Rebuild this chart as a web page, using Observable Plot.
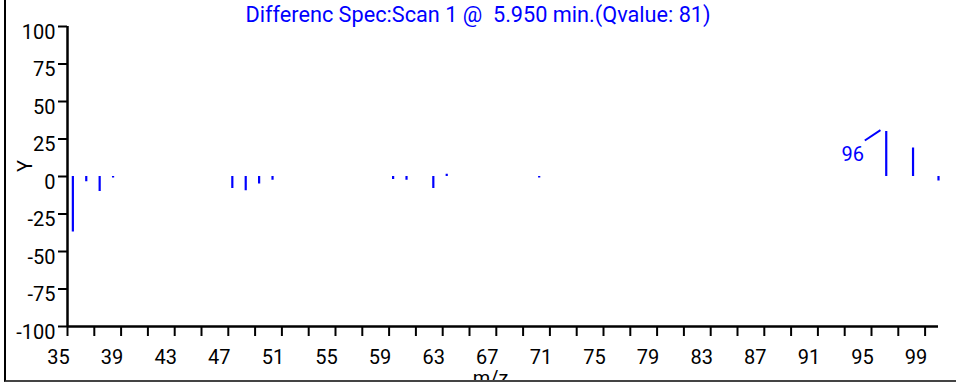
<!DOCTYPE html>
<html>
<head>
<meta charset="utf-8">
<script src="https://cdn.jsdelivr.net/npm/d3@7"></script>
<script src="https://cdn.jsdelivr.net/npm/@observablehq/plot@0.6"></script>
<style>
  html, body { margin: 0; padding: 0; background: #fff; overflow: hidden; }
  #wrap { position: relative; width: 956px; height: 382px; }
  #title { position: absolute; left: 0; top: 4px; width: 956px; text-align: center;
           font-family: Roboto, sans-serif; font-size: 21.7px; line-height: 1; color: #0000ff; white-space: pre; }
  #frame { position: absolute; left: 4px; top: -10px; width: 980px; height: 392px; box-sizing: border-box;
           border-left: 2px solid #000; border-bottom: 2px solid #444; pointer-events: none; }
</style>
</head>
<body>
<div id="wrap">
  <div id="chart"></div>
  <div id="title"></div>
  <div id="frame"></div>
</div>
<script>
// ---- data ----
const titleText = "Differenc Spec:Scan 1 @  5.950 min.(Qvalue: 81)";
const mz        = [35.4, 36.4, 37.4, 38.4, 47.3, 48.3, 49.3, 50.3, 59.3, 60.3, 62.3, 63.3, 70.2, 96.1, 98.1, 100.0];
const intensity = [-37, -3.5, -10, -1, -8, -9.5, -5, -2.5, -2, -2.5, -8, 1.5, -1, 30, 19, -3];
const labelledMz = [96.1];
const labelText  = ["96"];
const yTicks = [-100, -75, -50, -25, 0, 25, 50, 75, 100];
const xTicks = d3.range(35, 100, 2);
const xTickLabels = d3.range(35, 100, 4);
const xLabel = "m/z";
const yLabel = "Y";

const peaks = mz.map((m, i) => ({mz: m, v: intensity[i]}));
const annot = labelledMz.map((m, i) => ({mz: m, v: intensity[mz.indexOf(m)], t: labelText[i]}));

document.getElementById("title").textContent = titleText;

const blue = "#0000ff";
const fmt = d => String(d);
const chart = Plot.plot({
  width: 956,
  height: 382,
  marginLeft: 67,
  marginRight: 18,
  marginTop: 26,
  marginBottom: 56,
  style: {fontFamily: "Roboto, sans-serif", fontSize: "20px", background: "transparent", color: "#000", overflow: "visible"},
  x: {domain: [35, 100]},
  y: {domain: [-100, 100]},
  marks: [
    // axes lines
    Plot.ruleX([35], {y1: -100, y2: 100, stroke: "#000", strokeWidth: 2.5}),
    Plot.ruleY([-100], {x1: 35, x2: 100, stroke: "#000", strokeWidth: 2.5}),
    // y ticks and labels
    Plot.axisY(yTicks, {tickSize: 9, strokeWidth: 2, fill: "none", label: null}),
    Plot.axisY(yTicks, {tickSize: 0, tickPadding: 12, dy: 6, label: null, tickFormat: fmt}),
    // x ticks and labels
    Plot.axisX(xTicks, {tickSize: 10, strokeWidth: 2, fill: "none", label: null}),
    Plot.axisX(xTickLabels, {tickSize: 0, tickPadding: 23, dx: -9, label: null, tickFormat: fmt}),
    // axis titles
    Plot.text([xLabel], {frameAnchor: "bottom", lineAnchor: "top", dx: -12.5, dy: 44, text: d => d}),
    Plot.text([yLabel], {frameAnchor: "left", rotate: -90, dx: -42, dy: -4.5, text: d => d}),
    // spectrum
    Plot.ruleX(peaks, {x: "mz", y1: 0, y2: "v", stroke: blue, strokeWidth: 2.2}),
    // annotation
    Plot.link(annot, {x1: d => d.mz - 0.43, y1: d => d.v + 0.9, x2: d => d.mz - 1.6, y2: d => d.v - 6, stroke: blue, strokeWidth: 2}),
    Plot.text(annot, {x: "mz", y: "v", text: "t", fill: blue, dx: -33.5, dy: 22.7, lineAnchor: "middle"})
  ]
});
document.getElementById("chart").appendChild(chart);
</script>
</body>
</html>
